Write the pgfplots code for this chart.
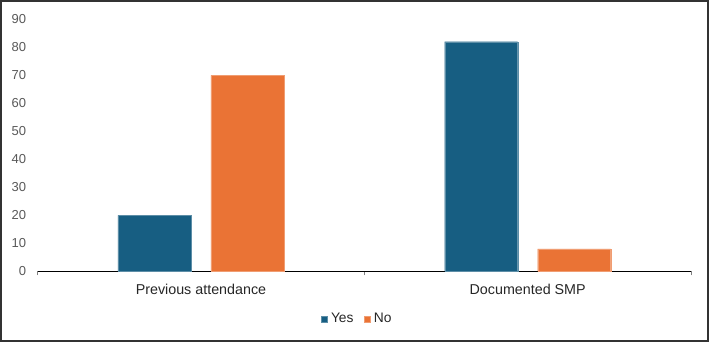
\documentclass[border=0pt]{standalone}
\usepackage{fontspec}
\setmainfont{Liberation Sans}
\usepackage{pgfplots}
\pgfplotsset{compat=1.18}

\definecolor{yesblue}{HTML}{175E82}
\definecolor{noorange}{HTML}{EA7335}
\definecolor{ticktext}{HTML}{595959}
\definecolor{cattext}{HTML}{262626}
\definecolor{baseline}{HTML}{D9D9D9}
\definecolor{frame}{HTML}{333333}

\begin{document}
\begin{tikzpicture}
\useasboundingbox (0,0) rectangle (709bp,342bp);
\draw[frame, line width=2bp] (1bp,1bp) rectangle (708bp,341bp);

\begin{axis}[
  at={(37.6bp,70.7bp)}, anchor=south west,
  scale only axis,
  width=653.4bp, height=252bp,
  ybar, bar width=73bp,
  xmin=-0.5, xmax=1.5,
  ymin=0, ymax=90,
  xtick={0,1},
  xticklabels={Previous attendance, Documented SMP},
  minor xtick={-0.5,0.5,1.5},
  ytick={0,10,...,90},
  major tick length=0pt,
  minor tick length=4bp,
  tick align=outside,
  tick pos=left,
  minor tick style={baseline, line width=1bp},
  axis x line*=bottom,
  axis y line*=left,
  y axis line style={draw=none},
  x axis line style={baseline, line width=1.3bp, -},
  /pgf/number format/assume math mode=true,
  yticklabel style={font=\fontsize{13bp}{15bp}\selectfont, text=ticktext, anchor=east, xshift=-8bp},
  xticklabel style={font=\fontsize{14.3bp}{17bp}\selectfont, text=cattext, yshift=-9bp},
  clip=false,
  legend style={
    at={(axis description cs:0.489,-0.189)}, anchor=center,
    draw=none, fill=none,
    font=\fontsize{13.8bp}{16bp}\selectfont, text=cattext,
    legend columns=2,
    /tikz/every even column/.append style={column sep=8bp},
    inner sep=0pt,
  },
  legend image code/.code={\fill[#1] (0bp,-3bp) rectangle (6bp,3bp); \path (8bp,0bp);},
]
\addplot[fill=yesblue, draw=yesblue!70!white, line width=0.3bp, bar shift=-46.5bp]
  coordinates {(0,20) (1,82)};
\addplot[fill=noorange, draw=noorange!70!white, line width=0.3bp, bar shift=46.5bp]
  coordinates {(0,70) (1,8)};
\legend{Yes, No}
\end{axis}
\end{tikzpicture}
\end{document}
